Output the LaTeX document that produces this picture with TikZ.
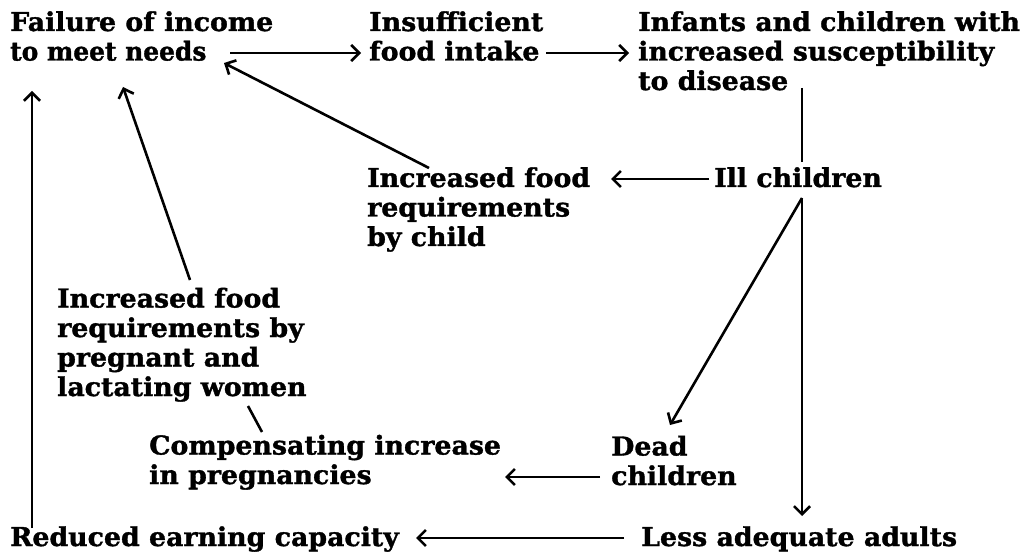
\documentclass[tikz,border=0pt]{standalone}
\usepackage{fontspec}
\setmainfont{DejaVu Serif}[FakeStretch=1.03,FakeBold=1.3]
\usetikzlibrary{arrows.meta}
\begin{document}
\begin{tikzpicture}[x=1pt,y=-1pt,
  txt/.style={anchor=base west,inner sep=0pt,align=left,font=\fontsize{26}{29.5}\selectfont\bfseries},
  arr/.style={line width=2.6pt,-{Straight Barb[length=8pt,width=16pt,line width=2.6pt]}},
  ln/.style={line width=2.6pt}]
\useasboundingbox (0,0) rectangle (1029,556);
\node[txt] (fail) at (10,60.5) {Failure of income\\\scalebox{0.93}[1]{to meet needs}};
\node[txt] (intake) at (369,60.5) {Insufficient\\food intake};
\node[txt] (infants) at (638,90) {Infants and children with\\increased susceptibility\\to disease};
\node[txt] (child) at (367,246) {Increased food\\requirements\\by child};
\node[txt] (ill) at (714,187) {Ill children};
\node[txt] (preg) at (57,396) {Increased food\\requirements by\\pregnant and\\lactating women};
\node[txt] (comp) at (149,484) {Compensating increase\\in pregnancies};
\node[txt] (dead) at (611,485) {Dead\\children};
\node[txt] (reduced) at (10,546) {Reduced earning capacity};
\node[txt] (less) at (641,546) {Less adequate adults};

\coordinate (fA) at (230,53);
\coordinate (fT) at (224,63);
\coordinate (fP) at (123,87);
\coordinate (fL) at (32,91);
\coordinate (iA) at (546,53);
\coordinate (sA) at (802,88);
\coordinate (sB) at (802,162);
\coordinate (lA) at (709,179);
\coordinate (cA) at (611,179);
\coordinate (cT) at (429,168);
\coordinate (lB) at (802,198);
\coordinate (dT) at (670,425);
\coordinate (aT) at (802,516);
\coordinate (pB) at (190,280);
\coordinate (pC) at (248,406);
\coordinate (cmT) at (262,432);
\coordinate (dA) at (600,477);
\coordinate (cmA) at (505,477);
\coordinate (aA) at (624,538);
\coordinate (rA) at (416,538);
\coordinate (rT) at (32,528);

\draw[arr] (fA) -- ([xshift=-8pt]intake.west |- fA);
\draw[arr] (iA) -- ([xshift=-9pt]infants.west |- iA);
\draw[ln] (sA) -- (sB);
\draw[arr] (lA) -- (cA);
\draw[arr] (cT) -- (fT);
\draw[arr] (lB) -- (dT);
\draw[arr] (lB) -- (aT);
\draw[arr] (pB) -- (fP);
\draw[ln] (pC) -- (cmT);
\draw[arr] (dA) -- (cmA);
\draw[arr] (aA) -- (rA);
\draw[arr] (rT) -- (fL);
\end{tikzpicture}
\end{document}
